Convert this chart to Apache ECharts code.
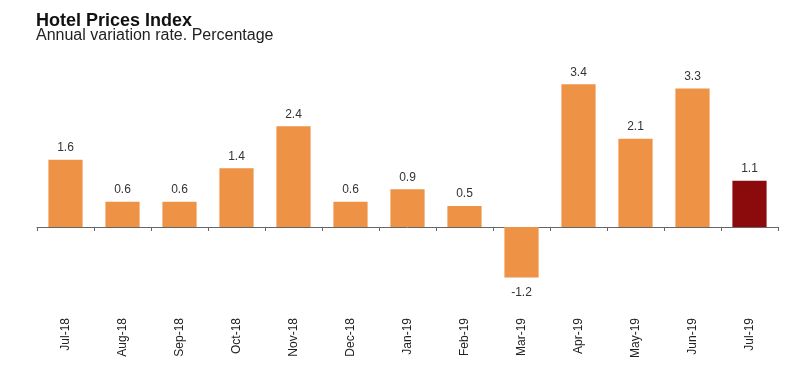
<!DOCTYPE html>
<html>
<head>
<meta charset="utf-8">
<script src="https://cdn.jsdelivr.net/npm/echarts@6/dist/echarts.min.js"></script>
<style>html,body{margin:0;padding:0;background:#fff;}#c{width:800px;height:370px;}</style>
</head>
<body>
<div id="c"></div>
<script>
var categories = ['Jul-18','Aug-18','Sep-18','Oct-18','Nov-18','Dec-18','Jan-19','Feb-19','Mar-19','Apr-19','May-19','Jun-19','Jul-19'];
var values = [1.6, 0.6, 0.6, 1.4, 2.4, 0.6, 0.9, 0.5, -1.2, 3.4, 2.1, 3.3, 1.1];
var barColor = '#EE9246';
var lastColor = '#8B0A0C';

var chart = echarts.init(document.getElementById('c'), null, {renderer: 'canvas'});
chart.setOption({
  animation: false,
  backgroundColor: '#fff',
  title: {
    text: 'Hotel Prices Index',
    subtext: 'Annual variation rate. Percentage',
    left: 31, top: 7,
    itemGap: -2,
    textStyle: {fontFamily: 'Liberation Sans', fontSize: 18, fontWeight: 'bold', color: '#111'},
    subtextStyle: {fontFamily: 'Liberation Sans', fontSize: 16, color: '#222'}
  },
  grid: {left: 37, right: 22, top: 80, bottom: 80, containLabel: false, outerBoundsMode: 'none'},
  xAxis: {
    type: 'category',
    data: categories,
    axisLine: {show: true, onZero: true, lineStyle: {color: '#666', width: 1}},
    axisTick: {show: true, length: 4, lineStyle: {color: '#666'}},
    axisLabel: {rotate: 90, margin: 28, fontFamily: 'Liberation Sans', fontSize: 12, color: '#222'}
  },
  yAxis: {
    type: 'value', min: -1.5, max: 3.5,
    show: false,
    splitLine: {show: false}
  },
  series: [{
    type: 'bar',
    barCategoryGap: '40%',
    data: values.map(function (v, i) {
      return {
        value: v,
        itemStyle: {color: i === values.length - 1 ? lastColor : barColor},
        label: {position: v < 0 ? 'bottom' : 'top', distance: v < 0 ? 9 : 6}
      };
    }),
    label: {
      show: true,
      fontFamily: 'Liberation Sans', fontSize: 12, color: '#333',
      formatter: function (p) { return p.value.toFixed(1); }
    }
  }]
});
</script>
</body>
</html>
